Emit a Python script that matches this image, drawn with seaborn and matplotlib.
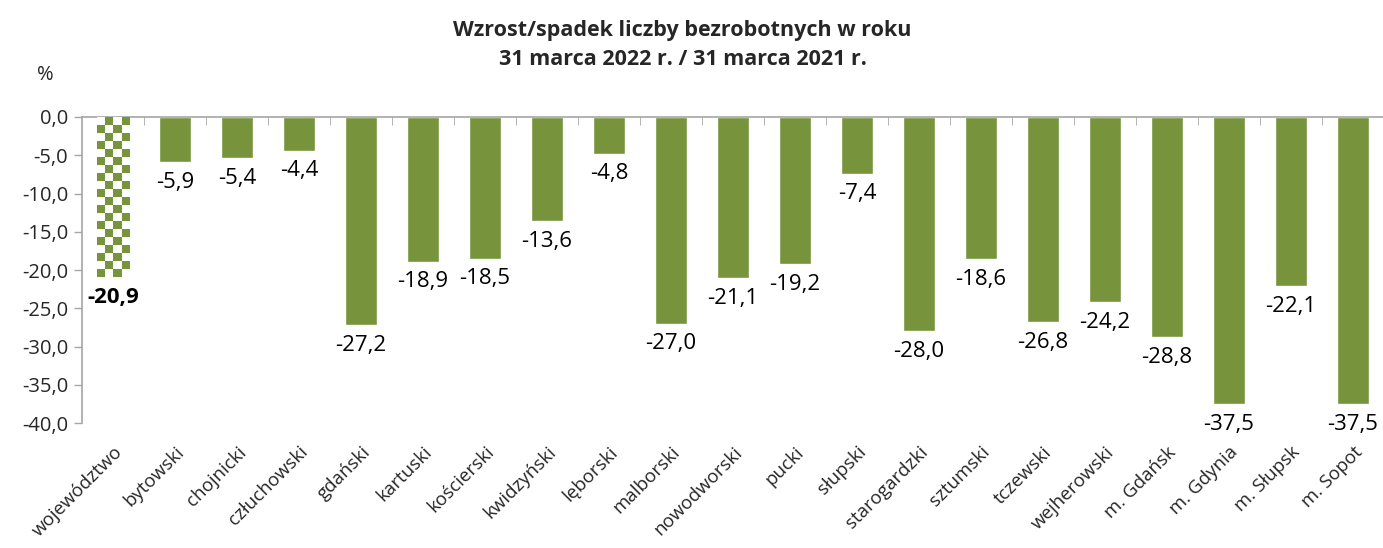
import numpy as np
import matplotlib
matplotlib.use("Agg")
import matplotlib.pyplot as plt
import seaborn as sns

# --- data ---
categories = ["województwo", "bytowski", "chojnicki", "człuchowski", "gdański",
              "kartuski", "kościerski", "kwidzyński", "lęborski", "malborski",
              "nowodworski", "pucki", "słupski", "starogardzki", "sztumski",
              "tczewski", "wejherowski", "m. Gdańsk", "m. Gdynia", "m. Słupsk",
              "m. Sopot"]
values = [-20.9, -5.9, -5.4, -4.4, -27.2, -18.9, -18.5, -13.6, -4.8, -27.0,
          -21.1, -19.2, -7.4, -28.0, -18.6, -26.8, -24.2, -28.8, -37.5, -22.1,
          -37.5]
y_ticks = [0, -5, -10, -15, -20, -25, -30, -35, -40]
title = "Wzrost/spadek liczby bezrobotnych w roku\n31 marca 2022 r. / 31 marca 2021 r."

GREEN = "#77933C"

sns.set_style("white")
plt.rcParams["font.family"] = ["Open Sans", "DejaVu Sans"]

fig = plt.figure(figsize=(13.83, 5.48), dpi=100)
ax = fig.add_axes([0.0593, 0.228, 0.9414, 0.5585])

palette = ["white"] + [GREEN] * (len(categories) - 1)
sns.barplot(x=categories, y=values, hue=categories, palette=palette,
            legend=False, width=0.52, ax=ax, saturation=1)

ax.set_ylim(-40, 0)
ax.set_xlim(-0.5, len(categories) - 0.5)

# checkerboard fill for the first bar (województwo)
fig.canvas.draw()
bar = ax.patches[0]
x0, w = bar.get_x(), bar.get_width()
h = bar.get_height()
p0 = ax.transData.transform((x0, 0))
p1 = ax.transData.transform((x0 + w, h))
nx = 4
cell = abs(p1[0] - p0[0]) / nx
ny = int(round(abs(p1[1] - p0[1]) / cell))
checker = (np.add.outer(np.arange(ny), np.arange(nx)) % 2).astype(float)
img = ax.imshow(checker, extent=(x0, x0 + w, h, 0),
                cmap=matplotlib.colors.ListedColormap(["white", GREEN]),
                interpolation="nearest", aspect="auto", zorder=3)
img.set_clip_path(bar)
ax.set_ylim(-40, 0)
ax.set_xlim(-0.5, len(categories) - 0.5)

# value labels below bars
for i, v in enumerate(values):
    ax.annotate(f"{v:.1f}".replace(".", ","), xy=(i, v), xytext=(0, -7),
                textcoords="offset points", ha="center", va="top",
                fontsize=16, fontweight="bold" if i == 0 else "normal",
                color="black")

# axes styling
ax.set_yticks(y_ticks)
ax.set_yticklabels([f"{t:.1f}".replace(".", ",") for t in y_ticks], fontsize=14.5)
ax.tick_params(axis="y", direction="out", length=6, width=1, color="#A6A6A6",
               left=True, pad=4)
ax.set_xticks(range(len(categories)))
ax.set_xticklabels(categories, rotation=45, ha="right", rotation_mode="anchor",
                   fontsize=13.5)
ax.tick_params(axis="x", bottom=False, top=False, pad=2)
for lbl in ax.get_xticklabels():
    lbl.set_y(-0.04)

# minor ticks between categories on the zero line
ax.set_xticks(np.arange(0.5, len(categories) - 1, 1.0), minor=True)
ax.tick_params(axis="x", which="minor", top=True, bottom=False,
               direction="in", length=6, color="#A6A6A6")

for side in ["right", "bottom"]:
    ax.spines[side].set_visible(False)
for side in ["left", "top"]:
    ax.spines[side].set_color("#A6A6A6")
    ax.spines[side].set_linewidth(1.2)
ax.set_xlabel("")
ax.set_ylabel("")

fig.text(0.0325, 0.863, "%", fontsize=14.5, ha="center", va="center")
fig.text(0.4935, 0.918, title, fontsize=15.5, fontweight="bold", ha="center",
         va="center", linespacing=1.55)

fig.savefig("out.png", dpi=100)
